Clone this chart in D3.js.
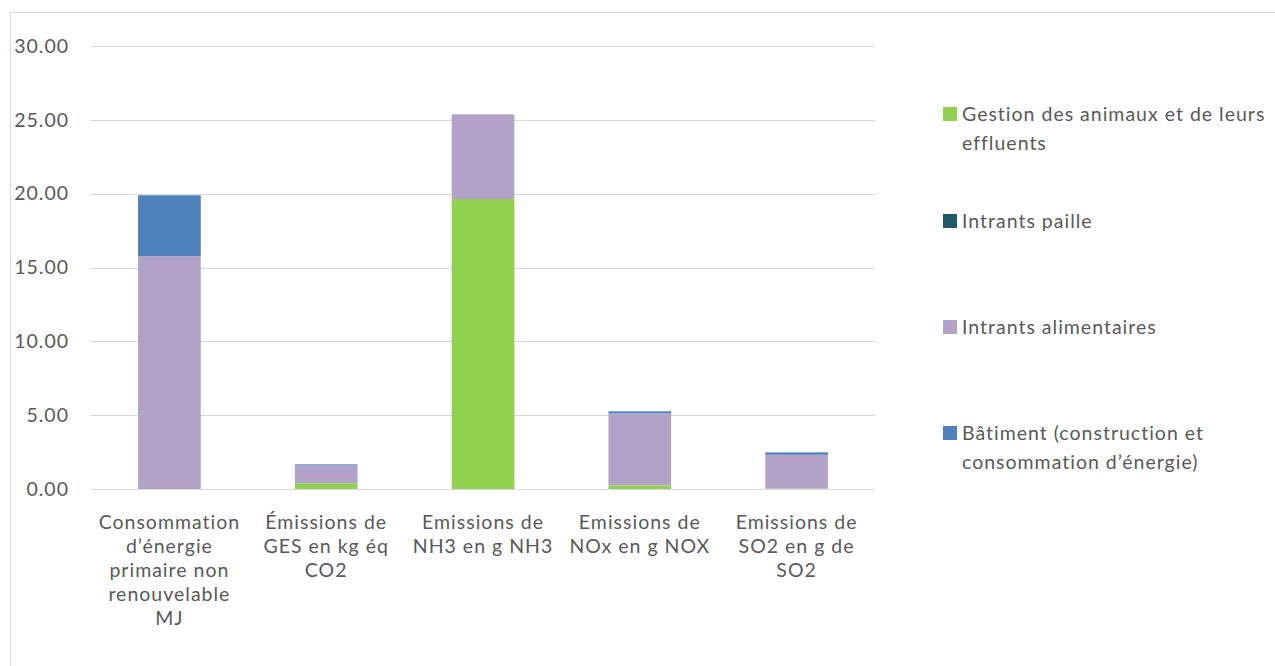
<!DOCTYPE html>
<html>
<head>
<meta charset="utf-8">
<script src="https://cdn.jsdelivr.net/npm/d3@7"></script>
<style>
  body { margin: 0; background: #fff; }
  text { font-family: Lato, "Open Sans", sans-serif; fill: #595959; letter-spacing: 1px; }
</style>
</head>
<body>
<svg></svg>
<script>
// categories (x axis), with manual line breaks as in the original
let categories = [
    ["Consommation", "d\u2019énergie", "primaire non", "renouvelable", "MJ"],
    ["Émissions de", "GES en kg éq", "CO2"],
    ["Emissions de", "NH3 en g NH3"],
    ["Emissions de", "NOx en g NOX"],
    ["Emissions de", "SO2 en g de", "SO2"]
]

// series, stacked bottom to top
let gestionAnimaux = [0.00, 0.39, 19.64, 0.25, 0.03]
let intrantsPaille = [0.00, 0.00, 0.00, 0.00, 0.00]
let intrantsAlim = [15.76, 1.21, 5.73, 4.87, 2.29]
let batiment = [4.13, 0.07, 0.00, 0.14, 0.16]

let seriesNames = ["Gestion des animaux et de leurs effluents", "Intrants paille",
    "Intrants alimentaires", "Bâtiment (construction et consommation d\u2019énergie)"]
let legendLines = [
    ["Gestion des animaux et de leurs", "effluents"],
    ["Intrants paille"],
    ["Intrants alimentaires"],
    ["Bâtiment (construction et", "consommation d\u2019énergie)"]
]
let colors = ["#92D050", "#215968", "#B3A2C7", "#4F81BD"]
let yTicks = [0, 5, 10, 15, 20, 25, 30]

var width = 1275, height = 666
var fontSize = "19.5px"
var svg = d3.select("svg")
    .attr("width", width)
    .attr("height", height)

// chart frame (cut by the right and bottom edges)
svg.append("rect")
    .attr("x", 10.5).attr("y", 12.5)
    .attr("width", 1300).attr("height", 700)
    .attr("fill", "none")
    .attr("stroke", "#d9d9d9")

var margin = {top: 46, left: 91}
var graphWidth = 875 - margin.left
var graphHeight = 489 - margin.top

var mainCanvas = svg.append("g")
    .attr("transform", `translate(${margin.left}, ${margin.top})`)

let scX = d3.scaleBand()
    .domain(d3.range(categories.length))
    .range([0, graphWidth])
    .paddingInner(0.6)
    .paddingOuter(0.3)

let scY = d3.scaleLinear()
    .domain([0, 30])
    .range([graphHeight, 0])

// gridlines
mainCanvas.append("g").selectAll("line")
    .data(yTicks).enter().append("line")
    .attr("x1", 0).attr("x2", graphWidth)
    .attr("y1", d => Math.round(scY(d)) + 0.5)
    .attr("y2", d => Math.round(scY(d)) + 0.5)
    .attr("stroke", "#d9d9d9")
    .attr("stroke-width", 1)

// stacked data
let table = categories.map((c, i) => ({
    i: i,
    s0: gestionAnimaux[i], s1: intrantsPaille[i], s2: intrantsAlim[i], s3: batiment[i]
}))
let stack = d3.stack().keys(["s0", "s1", "s2", "s3"])(table)

mainCanvas.append("g").selectAll("g")
    .data(stack).enter().append("g")
    .attr("fill", (d, i) => colors[i])
    .selectAll("rect")
    .data(d => d).enter().append("rect")
    .attr("x", d => scX(d.data.i))
    .attr("width", scX.bandwidth())
    .attr("y", d => scY(d[1]))
    .attr("height", d => scY(d[0]) - scY(d[1]))

// y axis labels, right aligned
let yAxis = d3.axisLeft(scY)
    .tickValues(yTicks)
    .tickFormat(d3.format(".2f"))
    .tickSize(0)
    .tickPadding(22)

let yg = mainCanvas.append("g").call(yAxis)
yg.select(".domain").remove()
yg.selectAll("text")
    .style("font-size", fontSize)
    .attr("fill", "#595959")

// x axis labels
let xLab = mainCanvas.append("g").selectAll("text")
    .data(categories).enter().append("text")
    .attr("text-anchor", "middle")
    .attr("x", (d, i) => scX(i) + scX.bandwidth() / 2)
    .attr("y", graphHeight + 40)
    .style("font-size", fontSize)

xLab.selectAll("tspan")
    .data(d => d).enter().append("tspan")
    .attr("x", function () { return d3.select(this.parentNode).attr("x") })
    .attr("dy", (d, j) => j === 0 ? 0 : 24)
    .text(d => d)

// legend
let legendY = [114, 221, 327, 433]
let legend = svg.append("g").selectAll("g")
    .data(seriesNames).enter().append("g")
    .attr("transform", (d, i) => `translate(943, ${legendY[i]})`)

legend.append("rect")
    .attr("x", 0).attr("y", -7)
    .attr("width", 14).attr("height", 14)
    .attr("fill", (d, i) => colors[i])

legend.append("text")
    .attr("x", 19)
    .attr("y", 7)
    .style("font-size", fontSize)
    .selectAll("tspan")
    .data((d, i) => legendLines[i]).enter().append("tspan")
    .attr("x", 19)
    .attr("dy", (d, j) => j === 0 ? 0 : 29)
    .text(d => d)
</script>
</body>
</html>
